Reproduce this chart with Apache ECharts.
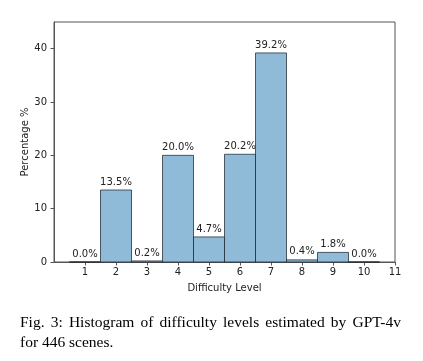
<!DOCTYPE html>
<html>
<head>
<meta charset="utf-8">
<script src="https://cdn.jsdelivr.net/npm/echarts@6/dist/echarts.min.js"></script>
<style>
html,body{margin:0;padding:0;background:#fff;}
#chart{width:423px;height:361px;}
</style>
</head>
<body>
<div id="chart"></div>
<script>
const levels = [1, 2, 3, 4, 5, 6, 7, 8, 9, 10];
const percentages = [0.0, 13.5, 0.2, 20.0, 4.7, 20.2, 39.2, 0.4, 1.8, 0.0];
const xTicks = [1, 2, 3, 4, 5, 6, 7, 8, 9, 10, 11];
const yTicks = [0, 10, 20, 30, 40];
const captionLine1 = ['Fig.', '3:', 'Histogram', 'of', 'difficulty', 'levels', 'estimated', 'by', 'GPT-4v'];
const captionLine2 = 'for 446 scenes.';

const chart = echarts.init(document.getElementById('chart'), null, {renderer: 'canvas'});
const tickFont = 'DejaVu Sans';
const axisColor = '#555';
const textColor = '#222';

// justified caption line 1
const capFont = '15.5px "Liberation Serif"';
const cv = document.createElement('canvas').getContext('2d');
cv.font = capFont;
const lineLeft = 20, lineRight = 401;
const widths = captionLine1.map(w => cv.measureText(w).width);
const total = widths.reduce((a, b) => a + b, 0);
const gap = (lineRight - lineLeft - total) / (captionLine1.length - 1);
const capEls = [];
let cx = lineLeft;
captionLine1.forEach((w, i) => {
  capEls.push({type: 'text', left: cx, top: 315, style: {text: w, font: capFont, fill: '#000'}});
  cx += widths[i] + gap;
});
capEls.push({type: 'text', left: lineLeft, top: 335, style: {text: captionLine2, font: capFont, fill: '#000'}});

chart.setOption({
  animation: false,
  grid: {left: 54, right: 28, top: 22, bottom: 99, show: true, borderColor: axisColor, borderWidth: 1},
  xAxis: {
    type: 'value', min: 0, max: 11, interval: 1,
    name: 'Difficulty Level', nameLocation: 'middle', nameGap: 21, nameMoveOverlap: false,
    nameTextStyle: {fontFamily: tickFont, fontSize: 10, color: textColor},
    axisLine: {show: true, lineStyle: {color: axisColor}},
    axisTick: {show: true, length: 3.5, lineStyle: {color: axisColor}, customValues: xTicks},
    axisLabel: {fontFamily: tickFont, fontSize: 10, color: textColor, margin: 5, customValues: xTicks},
    splitLine: {show: false}
  },
  yAxis: {
    type: 'value', min: 0, max: 45, interval: 10,
    name: 'Percentage %', nameLocation: 'middle', nameGap: 24, nameMoveOverlap: false,
    nameTextStyle: {fontFamily: tickFont, fontSize: 10, color: textColor},
    axisLine: {show: true, lineStyle: {color: axisColor}},
    axisTick: {show: true, length: 3.5, lineStyle: {color: axisColor}, customValues: yTicks},
    axisLabel: {fontFamily: tickFont, fontSize: 10, color: textColor, margin: 7, customValues: yTicks},
    splitLine: {show: false}
  },
  series: [{
    type: 'custom',
    data: levels.map((l, i) => [l, percentages[i]]),
    renderItem: function (params, api) {
      const x = api.value(0), y = api.value(1);
      const p0 = api.coord([x - 0.5, 0]);
      const p1 = api.coord([x + 0.5, y]);
      const pc = api.coord([x, y]);
      return {
        type: 'group',
        children: [
          {type: 'rect', shape: {x: p0[0], y: p1[1], width: p1[0] - p0[0], height: p0[1] - p1[1]},
           style: {fill: '#8fbbd9', stroke: 'rgba(20,30,40,0.7)', lineWidth: 1}},
          {type: 'text', x: pc[0], y: pc[1] - 3,
           style: {text: y.toFixed(1) + '%', align: 'center', verticalAlign: 'bottom',
                   font: '10px "DejaVu Sans"', fill: textColor}}
        ]
      };
    }
  }],
  graphic: capEls
});
</script>
</body>
</html>
